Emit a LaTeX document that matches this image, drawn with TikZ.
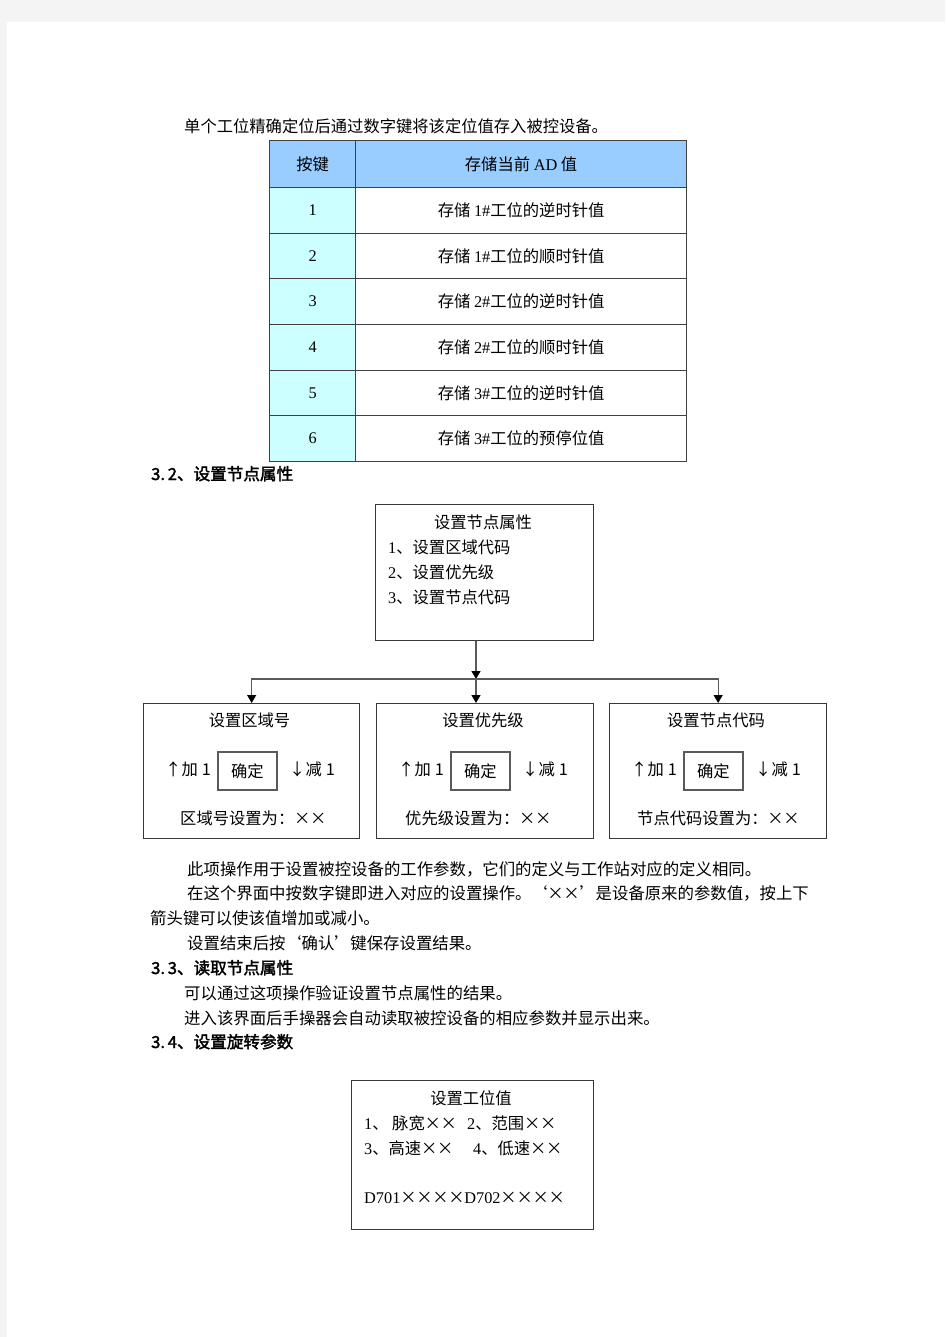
\documentclass[tikz,border=0pt]{standalone}
\usepackage{fontspec}
\usetikzlibrary{arrows.meta}
\setmainfont{Noto Sans CJK SC}[AutoFakeBold=2]
\newfontfamily\lat{Liberation Serif}
\definecolor{pagebg}{HTML}{F4F4F4}
\definecolor{hdr}{HTML}{99CCFF}
\definecolor{cyanc}{HTML}{CCFFFF}
\definecolor{tc}{HTML}{404040}
\definecolor{lc}{HTML}{383838}
\definecolor{cc}{HTML}{5A5A5A}
\newcommand{\X}{\makebox[16pt]{×}}
\newcommand{\LQ}{\makebox[16pt][r]{‘}}
\newcommand{\RQ}{\makebox[16pt][l]{’}}
\tikzset{
  txt/.style={inner sep=0pt, font=\fontsize{16.3}{18}\selectfont},
  ltxt/.style={txt, anchor=base west},
  para/.style={inner sep=0pt, anchor=base west, font=\fontsize{16.4}{18}\selectfont},
  head/.style={inner sep=0pt, anchor=base west, font=\fontsize{16.6}{20}\selectfont\bfseries},
  bx/.style={draw=lc, line width=1.3pt, inner sep=0pt, anchor=north west},
  okbox/.style={draw=cc, line width=1.6pt, inner sep=0pt, anchor=north west, font=\fontsize{16.3}{18}\selectfont},
  cell/.style={draw=tc, line width=1.2pt, inner sep=0pt, anchor=north west, font=\fontsize{16.3}{18}\selectfont},
  conn/.style={draw=cc, line width=1.3pt},
  arr/.style={conn, -{Triangle[length=8pt,width=9pt,color=black]}}
}
\begin{document}
\begin{tikzpicture}[x=1pt,y=-1pt]
\useasboundingbox (0,0) rectangle (945,1337);
\fill[pagebg] (0,0) rectangle (945,1337);
\fill[white] (7,22) rectangle (945,1337);

% intro
\node[ltxt] (intro) at (184,133) {单个工位精确定位后通过数字键将该定位值存入被控设备。};

% table
\node[cell, fill=hdr, minimum width=86pt, minimum height=47pt] (h1) at (269,140) {按键};
\node[cell, fill=hdr, minimum width=331pt, minimum height=47pt] (h2) at (355,140) {存储当前 {\lat AD} 值};
\foreach \i/\y/\h/\t in {
  1/187/46/{存储 {\lat 1\#}工位的逆时针值},
  2/233/45/{存储 {\lat 1\#}工位的顺时针值},
  3/278/46/{存储 {\lat 2\#}工位的逆时针值},
  4/324/46/{存储 {\lat 2\#}工位的顺时针值},
  5/370/45/{存储 {\lat 3\#}工位的逆时针值},
  6/415/46/{存储 {\lat 3\#}工位的预停位值}} {
  \node[cell, fill=cyanc, minimum width=86pt, minimum height=\h pt] (k\i) at (269,\y) {\lat\i};
  \node[cell, fill=white, minimum width=331pt, minimum height=\h pt] (v\i) at (355,\y) {\t};
}

% heading 3.2
\node[head] (s32) at (151,480) {3.\,2、设置节点属性};

% top box
\node[bx, minimum width=218pt, minimum height=136pt] (top) at (375,504) {};
\node[txt] (topt) at (483,522) {设置节点属性};
\node[ltxt] (top1) at (388,553) {{\lat 1}、设置区域代码};
\node[ltxt] (top2) at (388,578) {{\lat 2}、设置优先级};
\node[ltxt] (top3) at (388,603) {{\lat 3}、设置节点代码};

% lower boxes
\node[bx, minimum width=216pt, minimum height=135pt] (ba) at (143,703) {};
\node[bx, minimum width=217pt, minimum height=135pt] (bb) at (376,703) {};
\node[bx, minimum width=217pt, minimum height=135pt] (bc) at (609,703) {};

\node[txt] (ta) at (249.5,720) {设置区域号};
\node[txt] (tb) at (483,720) {设置优先级};
\node[txt] (tcc) at (716,720) {设置节点代码};

\node[okbox, minimum width=59pt, minimum height=38pt] (oka) at (217,751) {确定};
\node[okbox, minimum width=59pt, minimum height=38pt] (okb) at (450,751) {确定};
\node[okbox, minimum width=59pt, minimum height=38pt] (okc) at (683,751) {确定};

\node[ltxt] (upa) at (165,775) {↑加\hspace{4pt}1};
\node[ltxt] (dna) at (289,775) {↓减\hspace{4pt}1};
\node[ltxt] (upb) at (398,775) {↑加\hspace{4pt}1};
\node[ltxt] (dnb) at (522,775) {↓减\hspace{4pt}1};
\node[ltxt] (upc) at (631,775) {↑加\hspace{4pt}1};
\node[ltxt] (dnc) at (755,775) {↓减\hspace{4pt}1};

\node[ltxt] (ra) at (180,824) {区域号设置为：\X\X};
\node[ltxt] (rb) at (405,824) {优先级设置为：\X\X};
\node[ltxt] (rc) at (637,824) {节点代码设置为：\X\X};

% connectors
\coordinate (j) at (476,679);
\draw[arr] (j |- top.south) -- (j);
\draw[arr] (j) -| (ba.north);
\draw[arr] (j) -| (bc.north);
\draw[arr] (j) -- (j |- bb.north);

% paragraphs
\node[para] (p1) at (187,875) {此项操作用于设置被控设备的工作参数，它们的定义与工作站对应的定义相同。};
\node[para] (p2) at (187,899) {在这个界面中按数字键即进入对应的设置操作。\LQ\X\X\RQ 是设备原来的参数值，按上下};
\node[para] (p3) at (150,924) {箭头键可以使该值增加或减小。};
\node[para] (p4) at (187,949) {设置结束后按\LQ 确认\RQ 键保存设置结果。};
\node[head] (s33) at (151,974) {3.\,3、读取节点属性};
\node[para] (p5) at (184,999) {可以通过这项操作验证设置节点属性的结果。};
\node[para] (p6) at (184,1024) {进入该界面后手操器会自动读取被控设备的相应参数并显示出来。};
\node[head] (s34) at (151,1048) {3.\,4、设置旋转参数};

% bottom box
\node[bx, minimum width=242pt, minimum height=149pt] (bot) at (351,1080) {};
\node[txt] (bott) at (471,1098) {设置工位值};
\node[ltxt] (b1a) at (364,1129) {{\lat 1}、};
\node[ltxt] (b1b) at (392,1129) {脉宽\X\X};
\node[ltxt] (b1c) at (467,1129) {{\lat 2}、范围\X\X};
\node[ltxt] (b2a) at (364,1154) {{\lat 3}、高速\X\X};
\node[ltxt] (b2b) at (473,1154) {{\lat 4}、低速\X\X};
\node[ltxt] (b3) at (364,1203) {{\lat D701}\X\X\X\X{\lat D702}\X\X\X\X};
\end{tikzpicture}
\end{document}
